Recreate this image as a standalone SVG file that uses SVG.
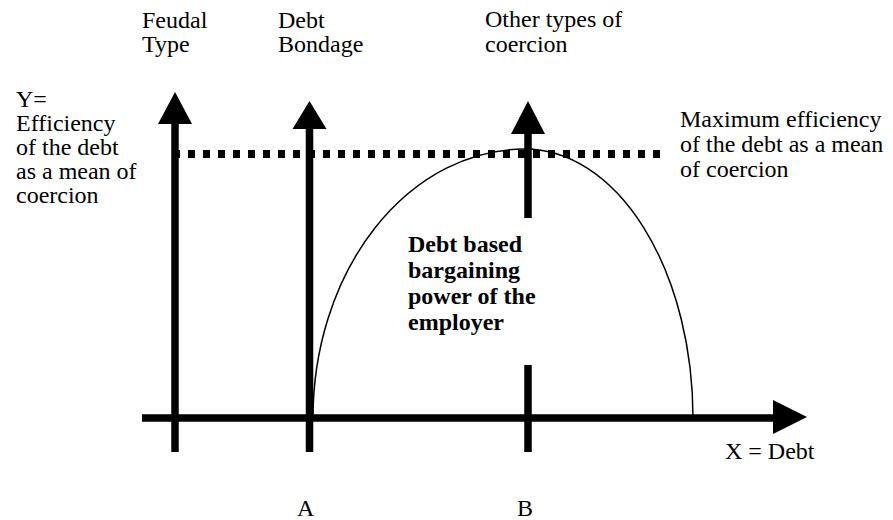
<svg xmlns="http://www.w3.org/2000/svg" width="893" height="520" viewBox="0 0 893 520">
<style>
text{font-family:"Liberation Serif","Times New Roman",serif;font-size:24px;fill:#000}
.b{font-weight:bold}
.shaft{stroke:#000;stroke-width:7.5;fill:none}
.head{fill:#000}
</style>
<rect width="893" height="520" fill="#fff"/>
<g id="connectors">
  <g id="x-axis"><line class="shaft" x1="142" y1="418" x2="775" y2="418"/><polygon class="head" points="773,400 807,417 773,434"/></g>
  <g id="feudal-arrow"><line class="shaft" x1="175" y1="452" x2="175" y2="122"/><polygon class="head" points="158,124 175,92 192,124"/></g>
  <g id="bondage-arrow"><line class="shaft" x1="309.5" y1="452" x2="309.5" y2="127"/><polygon class="head" points="292.5,129 309.5,101 326.5,129"/></g>
  <g id="other-arrow"><line class="shaft" x1="528" y1="218" x2="528" y2="132"/><line class="shaft" x1="528" y1="365" x2="528" y2="452"/><polygon class="head" points="511,134 528,101 545,134"/></g>
  <line id="max-line" x1="173" y1="154" x2="662" y2="154" stroke="#000" stroke-width="8" stroke-dasharray="7 8"/>
  <path id="curve" d="M313,418 A212,269 0 0 1 525,149 A168,269 0 0 1 693,418" fill="none" stroke="#000" stroke-width="1.5"/>
</g>
<g id="label-feudal"><text x="142" y="28">Feudal</text><text x="142" y="52">Type</text></g>
<g id="label-bondage"><text x="278" y="28">Debt</text><text x="278" y="52">Bondage</text></g>
<g id="label-other"><text x="485" y="27">Other types of</text><text x="485" y="52">coercion</text></g>
<g id="label-y"><text x="16" y="107">Y=</text><text x="16" y="131">Efficiency</text><text x="16" y="155">of the debt</text><text x="16" y="179">as a mean of</text><text x="16" y="203">coercion</text></g>
<g id="label-max"><text x="680" y="127">Maximum efficiency</text><text x="680" y="152">of the debt as a mean</text><text x="680" y="177">of coercion</text></g>
<g id="label-power"><text class="b" x="408" y="252">Debt based</text><text class="b" x="408" y="278">bargaining</text><text class="b" x="408" y="304">power of the</text><text class="b" x="408" y="330">employer</text></g>
<g id="label-x"><text x="725" y="459">X = Debt</text></g>
<g id="label-a"><text x="297" y="516">A</text></g>
<g id="label-b"><text x="517" y="516">B</text></g>
</svg>
